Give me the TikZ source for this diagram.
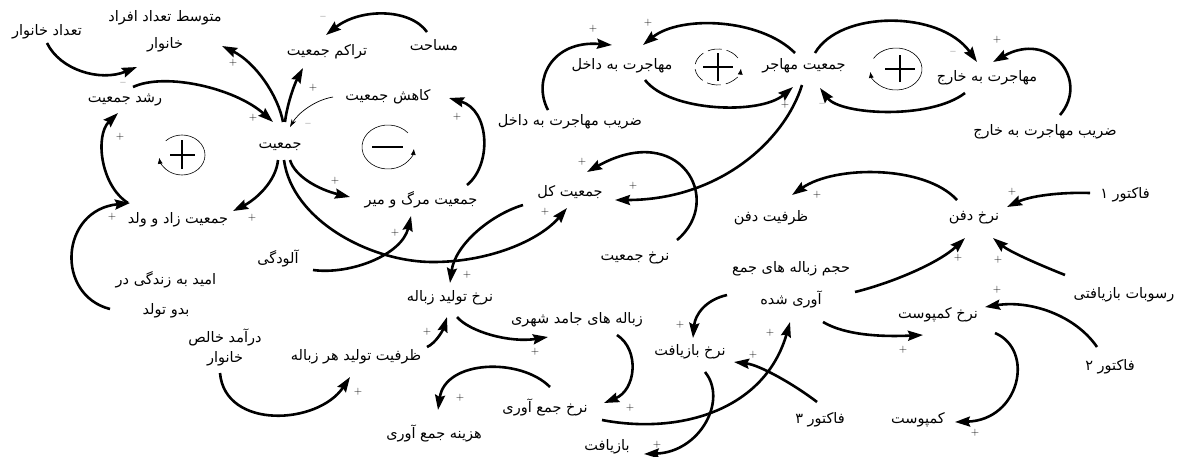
\documentclass[tikz,border=0pt]{standalone}
\usepackage{fontspec}
\TeXXeTstate=1
\newfontfamily\arabicfont[Script=Arabic]{DejaVu Sans}
\usetikzlibrary{arrows.meta,calc}
\tikzset{
  lbl/.style={font=\arabicfont\fontsize{14.5}{17}\selectfont, inner sep=1pt, align=center},
  pol/.style={font=\fontsize{11}{11}\selectfont, inner sep=0pt},
  arr/.style={line width=2.6pt, -{Stealth[length=15pt,width=10pt,inset=2pt]}},
  thinarr/.style={line width=0.7pt, -{Stealth[length=8pt,width=5pt]}},
  loopc/.style={line width=0.6pt},
  loopsym/.style={line width=2.4pt},
}
\begin{document}
\begin{tikzpicture}[x=1pt,y=-1pt]
\useasboundingbox (0,0) rectangle (1182,456);
\fill[white] (0,0) rectangle (1182,456);
% nodes
\node[lbl] (tk) at (47,32) {\beginR تعداد خانوار\endR};
\node[lbl] (mt) at (165,31) {\beginR متوسط تعداد افراد\endR\\[10pt]\beginR خانوار\endR};
\node[lbl] (rj) at (125,100) {\beginR رشد جمعیت\endR};
\node[lbl] (jm) at (280,147) {\beginR جمعیت\endR};
\node[lbl] (tr) at (327,52) {\beginR تراکم جمعیت\endR};
\node[lbl] (ms) at (434,45) {\beginR مساحت\endR};
\node[lbl] (kj) at (388,97) {\beginR کاهش جمعیت\endR};
\node[lbl] (mm) at (421,200) {\beginR جمعیت مرگ و میر\endR};
\node[lbl] (zv) at (178,220) {\beginR جمعیت زاد و ولد\endR};
\node[lbl] (om) at (166,295) {\beginR امید به زندگی در\endR\\[13pt]\beginR بدو تولد\endR};
\node[lbl] (dk) at (225,347) {\beginR درآمد خالص\endR\\[3pt]\beginR خانوار\endR};
\node[lbl] (al) at (278,258) {\beginR آلودگی\endR};
\node[lbl] (zt) at (356,357) {\beginR ظرفیت تولید هر زباله\endR};
\node[lbl] (nt) at (450,298) {\beginR نرخ تولید زباله\endR};
\node[lbl] (zj) at (577,320) {\beginR زباله های جامد شهری\endR};
\node[lbl] (nj) at (545,407) {\beginR نرخ جمع آوری\endR};
\node[lbl] (hj) at (434,433) {\beginR هزینه جمع آوری\endR};
\node[lbl] (bz) at (607,447) {\beginR بازیافت\endR};
\node[lbl] (nb) at (690,352) {\beginR نرخ بازیافت\endR};
\node[lbl] (f3) at (820,420) {\beginR فاکتور ۳\endR};
\node[lbl] (hz) at (791,285) {\beginR حجم زباله های جمع\endR\\[14pt]\beginR آوری شده\endR};
\node[lbl] (nr) at (635,258) {\beginR نرخ جمعیت\endR};
\node[lbl] (jk) at (570,192) {\beginR جمعیت کل\endR};
\node[lbl] (zd) at (570,122) {\beginR ضریب مهاجرت به داخل\endR};
\node[lbl] (md) at (622,66) {\beginR مهاجرت به داخل\endR};
\node[lbl] (jh) at (804,66) {\beginR جمعیت مهاجر\endR};
\node[lbl] (mk) at (987,78) {\beginR مهاجرت به خارج\endR};
\node[lbl] (zk) at (1045,132) {\beginR ضریب مهاجرت به خارج\endR};
\node[lbl] (zf) at (771,218) {\beginR ظرفیت دفن\endR};
\node[lbl] (nd) at (974,218) {\beginR نرخ دفن\endR};
\node[lbl] (f1) at (1125,195) {\beginR فاکتور ۱\endR};
\node[lbl] (rb) at (1124,295) {\beginR رسوبات بازیافتی\endR};
\node[lbl] (nk) at (938,315) {\beginR نرخ کمپوست\endR};
\node[lbl] (f2) at (1110,367) {\beginR فاکتور ۲\endR};
\node[lbl] (kp) at (918,420) {\beginR کمپوست\endR};
% connectors
\draw[arr] ($(tk)+(0,11)$) .. controls (60,70) and (100,82) .. ($(mt)+(-28,36)$);
\draw[arr] ($(rj)+(8,-13)$) .. controls (165,72) and (235,88) .. ($(jm)+(-7,-25)$);
\draw[arr] ($(jm)+(3,-25)$) .. controls (278,95) and (255,62) .. ($(mt)+(57,15)$);
\draw[arr] ($(jm)+(5,-25)$) .. controls (287,105) and (294,85) .. ($(tr)+(-24,16)$);
\draw[arr] ($(ms)+(-7,-13)$) .. controls (410,8) and (360,8) .. ($(tr)+(-1,-17)$);
\draw[thinarr] ($(kj)+(-55,0)$) .. controls (315,100) and (298,113) .. ($(jm)+(10,-20)$);
\draw[arr] ($(jm)+(-2,13)$) .. controls (276,182) and (255,200) .. ($(zv)+(55,-9)$);
\draw[arr] ($(jm)+(10,13)$) .. controls (295,177) and (320,190) .. ($(mm)+(-71,-3)$);
\draw[arr] ($(jm)+(4,13)$) .. controls (292,220) and (370,262) .. (433,262) .. controls (490,262) and (540,240) .. ($(jk)+(-3,16)$);
\draw[arr] ($(al)+(35,12)$) .. controls (350,275) and (402,255) .. ($(mm)+(-10,16)$);
\draw[arr] ($(mm)+(46,-15)$) .. controls (492,165) and (490,110) .. ($(kj)+(61,1)$);
\draw[arr] ($(zv)+(-50,-17)$) .. controls (100,185) and (95,135) .. ($(rj)+(-7,13)$);
\draw[arr] ($(om)+(-56,14)$) .. controls (55,295) and (60,210) .. ($(zv)+(-48,-17)$);
\draw[arr] ($(dk)+(-5,26)$) .. controls (225,430) and (318,425) .. ($(zt)+(-6,20)$);
\draw[arr] ($(zt)+(71,-10)$) .. controls (436,343) and (443,330) .. ($(nt)+(-3,19)$);
\draw[arr] ($(nt)+(7,19)$) .. controls (470,332) and (510,343) .. ($(zj)+(-29,17)$);
\draw[arr] ($(jk)+(-47,13)$) .. controls (490,215) and (455,245) .. ($(nt)+(0,-15)$);
\draw[arr] ($(zj)+(40,15)$) .. controls (640,350) and (636,390) .. ($(nj)+(59,-4)$);
\draw[arr] ($(nj)+(5,-20)$) .. controls (520,357) and (445,360) .. ($(hj)+(4,-23)$);
\draw[arr] ($(nj)+(57,13)$) .. controls (680,435) and (765,410) .. ($(hz)+(-1,37)$);
\draw[arr] ($(hz)+(-64,10)$) .. controls (705,300) and (695,315) .. ($(nb)+(3,-14)$);
\draw[arr] ($(f3)+(-3,-18)$) .. controls (795,385) and (760,365) .. ($(nb)+(44,10)$);
\draw[arr] ($(nb)+(15,20)$) .. controls (728,400) and (700,452) .. ($(bz)+(37,7)$);
\draw[arr] ($(hz)+(64,7)$) .. controls (895,282) and (940,262) .. ($(nd)+(-9,20)$);
\draw[arr] ($(hz)+(32,37)$) .. controls (845,335) and (880,337) .. ($(nk)+(-15,20)$);
\draw[arr] ($(f2)+(-13,-20)$) .. controls (1075,315) and (1030,300) .. ($(nk)+(47,-8)$);
\draw[arr] ($(nk)+(57,18)$) .. controls (1035,350) and (1020,420) .. ($(kp)+(37,2)$);
\draw[arr] ($(rb)+(-59,-20)$) .. controls (1040,265) and (1010,252) .. ($(nd)+(19,20)$);
\draw[arr] ($(f1)+(-35,-2)$) .. controls (1060,192) and (1030,196) .. ($(nd)+(33,-11)$);
\draw[arr] ($(nd)+(-17,-18)$) .. controls (925,165) and (835,165) .. ($(zf)+(21,-23)$);
\draw[arr] ($(nr)+(42,-18)$) .. controls (725,200) and (680,120) .. ($(jk)+(17,-20)$);
\draw[arr] ($(jh)+(-2,19)$) .. controls (785,140) and (720,200) .. ($(jk)+(45,8)$);
\draw[arr] ($(zd)+(-22,-12)$) .. controls (532,80) and (552,40) .. ($(md)+(-10,-21)$);
\draw[arr] ($(jh)+(-9,-13)$) .. controls (760,18) and (680,15) .. ($(md)+(21,-21)$);
\draw[arr] ($(md)+(23,14)$) .. controls (670,112) and (760,115) .. ($(jh)+(-11,21)$);
\draw[arr] ($(jh)+(11,-13)$) .. controls (840,10) and (940,10) .. ($(mk)+(-10,-16)$);
\draw[arr] ($(zk)+(15,-17)$) .. controls (1090,80) and (1050,30) .. ($(mk)+(6,-16)$);
\draw[arr] ($(mk)+(-22,15)$) .. controls (930,120) and (840,115) .. ($(jh)+(16,22)$);
% polarity
\node[pol] (p1) at (123,84) {–};
\node[pol] (p2) at (233,63) {+};
\node[pol] (p3) at (253,118) {+};
\node[pol] (p4) at (313,88) {+};
\node[pol] (p5) at (323,18) {–};
\node[pol] (p6) at (308,125) {–};
\node[pol] (p7) at (252,218) {+};
\node[pol] (p8) at (335,181) {+};
\node[pol] (p9) at (120,137) {+};
\node[pol] (p10) at (112,217) {+};
\node[pol] (p11) at (457,117) {+};
\node[pol] (p12) at (395,233) {+};
\node[pol] (p13) at (545,212) {+};
\node[pol] (p14) at (467,275) {+};
\node[pol] (p15) at (427,332) {+};
\node[pol] (p16) at (358,392) {+};
\node[pol] (p17) at (535,352) {+};
\node[pol] (p18) at (630,408) {+};
\node[pol] (p19) at (460,398) {+};
\node[pol] (p20) at (770,333) {+};
\node[pol] (p21) at (680,325) {+};
\node[pol] (p22) at (753,355) {+};
\node[pol] (p23) at (657,445) {+};
\node[pol] (p24) at (958,258) {+};
\node[pol] (p25) at (903,350) {+};
\node[pol] (p26) at (997,290) {+};
\node[pol] (p27) at (975,433) {+};
\node[pol] (p28) at (998,260) {+};
\node[pol] (p29) at (1012,192) {+};
\node[pol] (p30) at (817,195) {+};
\node[pol] (p31) at (582,162) {+};
\node[pol] (p32) at (633,186) {+};
\node[pol] (p33) at (593,29) {+};
\node[pol] (p34) at (648,23) {+};
\node[pol] (p35) at (785,105) {+};
\node[pol] (p36) at (953,53) {–};
\node[pol] (p37) at (997,40) {+};
\node[pol] (p38) at (822,105) {–};
% loop symbols
\begin{scope}[shift={(182,155)},y=1pt]
  \draw[loopc,-{Latex[length=6pt,width=5pt]}] (135:23 and 20) arc[start angle=135,end angle=-172,x radius=23,y radius=20];
  \draw[loopsym] (-12,0)--(13,0) (0,-14)--(0,15);
\end{scope}
\begin{scope}[shift={(388,147)},y=1pt]
  \draw[loopc,-{Latex[length=6pt,width=5pt]}] (40:26 and 22) arc[start angle=40,end angle=355,x radius=26,y radius=22];
  \draw[loopsym] (-16,0)--(15,0);
\end{scope}
\begin{scope}[shift={(718,67)},y=1pt]
  \draw[loopc,dash pattern=on 14pt off 5pt,-{Latex[length=6pt,width=5pt]}] (30:23 and 18) arc[start angle=30,end angle=355,x radius=23,y radius=18];
  \draw[loopsym] (-15,0)--(15,0) (0,-14)--(0,14);
\end{scope}
\begin{scope}[shift={(896,69)},y=1pt]
  \draw[loopc,-{Latex[length=6pt,width=5pt]}] (150:26 and 21) arc[start angle=150,end angle=-172,x radius=26,y radius=21];
  \draw[loopsym] (-11,0)--(19,0) (4,-13)--(4,14);
\end{scope}
\end{tikzpicture}
\end{document}
